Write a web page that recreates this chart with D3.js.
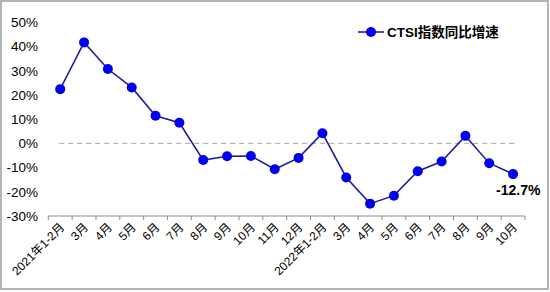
<!DOCTYPE html>
<html lang="zh">
<head>
<meta charset="UTF-8">
<title>CTSI指数同比增速</title>
<script src="https://d3js.org/d3.v7.min.js"></script>
<style>
  body { margin: 0; background: #fff; }
  text { font-family: Arial, "Liberation Sans", "Noto Sans CJK SC", sans-serif; }
</style>
</head>
<body>
<script>
// months along the x axis
const months = ["2021年1-2月", "3月", "4月", "5月", "6月", "7月", "8月", "9月", "10月", "11月", "12月",
                "2022年1-2月", "3月", "4月", "5月", "6月", "7月", "8月", "9月", "10月"];
// year-on-year growth, %
const growth = [22.4, 41.7, 30.7, 23.1, 11.4, 8.5, -6.9, -5.3, -5.2, -10.7, -6.0,
                4.2, -14.1, -24.9, -21.6, -11.5, -7.5, 3.1, -8.2, -12.7];
const yTicks = [50, 40, 30, 20, 10, 0, -10, -20, -30];
const seriesName = "CTSI指数同比增速";

const W = 550, H = 292;
const svg = d3.select("body").append("svg")
    .attr("width", W)
    .attr("height", H);

// outer frame
svg.append("rect")
    .attr("x", 1).attr("y", 1)
    .attr("width", W - 3).attr("height", H - 4)
    .attr("fill", "none")
    .attr("stroke", "#b4b4b4")
    .attr("stroke-width", 2);

const idx = months.map((d, i) => i);
const x = d3.scaleBand()
    .domain(idx)
    .range([48.3, 525]);

const y = d3.scaleLinear()
    .domain([-30, 50])
    .range([216, 22.3]);

const cx = i => x(i) + x.bandwidth() / 2;

// y labels
svg.append("g").selectAll("text")
    .data(yTicks)
    .enter().append("text")
    .attr("x", 38)
    .attr("y", d => y(d))
    .attr("dy", "0.36em")
    .attr("text-anchor", "end")
    .attr("font-size", 13.5)
    .attr("fill", "#000")
    .text(d => d + "%");

// zero line
svg.append("line")
    .attr("x1", cx(0) - 1).attr("x2", cx(months.length - 1) + 2)
    .attr("y1", y(0)).attr("y2", y(0))
    .attr("stroke", "#a6a6a6")
    .attr("stroke-width", 1)
    .attr("stroke-dasharray", "5,4");

// x axis
const xAxis = svg.append("g")
    .attr("transform", "translate(0," + y(-30) + ")")
    .call(d3.axisBottom(x).tickSize(0).tickFormat(i => months[i]));
xAxis.select(".domain")
    .attr("stroke", "#8c8c8c")
    .attr("d", "M" + x.range()[0] + ",0H" + x.range()[1]);
xAxis.selectAll(".tick line").remove();
xAxis.selectAll(".tick text")
    .attr("font-size", 12)
    .attr("font-family", "Arial, 'Liberation Sans', 'Noto Sans CJK SC', sans-serif")
    .attr("fill", "#000")
    .attr("text-anchor", "end")
    .attr("dy", 0)
    .attr("y", 0)
    .attr("transform", "translate(5,12) rotate(-45)");

// tick marks at band edges
const edges = idx.concat([months.length]);
svg.append("g").selectAll("line")
    .data(edges)
    .enter().append("line")
    .attr("x1", i => x.range()[0] + i * x.step())
    .attr("x2", i => x.range()[0] + i * x.step())
    .attr("y1", y(-30)).attr("y2", y(-30) + 4)
    .attr("stroke", "#8c8c8c");

// series line
const line = d3.line()
    .x((d, i) => cx(i))
    .y(d => y(d));
svg.append("path")
    .datum(growth)
    .attr("d", line)
    .attr("fill", "none")
    .attr("stroke", "#1f1f9a")
    .attr("stroke-width", 1.6);

svg.append("g").selectAll("circle")
    .data(growth)
    .enter().append("circle")
    .attr("cx", (d, i) => cx(i))
    .attr("cy", d => y(d))
    .attr("r", 5)
    .attr("fill", "#0000f0");

// last value label
svg.append("text")
    .attr("x", cx(growth.length - 1) - 17)
    .attr("y", y(growth[growth.length - 1]) + 21)
    .attr("font-size", 14)
    .attr("font-weight", "bold")
    .attr("fill", "#000")
    .text(growth[growth.length - 1] + "%");

// legend
const lg = svg.append("g").attr("transform", "translate(358,32)");
lg.append("line")
    .attr("x1", 0).attr("x2", 26)
    .attr("stroke", "#1f1f9a").attr("stroke-width", 1.6);
lg.append("circle")
    .attr("cx", 13).attr("r", 5).attr("fill", "#0000f0");
lg.append("text")
    .attr("x", 29).attr("dy", "0.36em")
    .attr("font-size", 13.5)
    .attr("font-weight", "bold")
    .attr("fill", "#000")
    .text(seriesName);
</script>
</body>
</html>
